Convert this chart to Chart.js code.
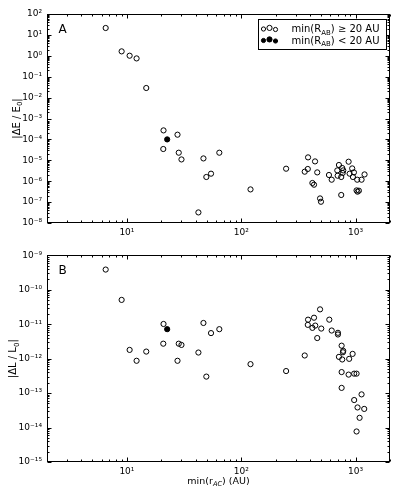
<!DOCTYPE html>
<html>
<head>
<meta charset="utf-8">
<script src="https://cdn.jsdelivr.net/npm/chart.js@4.4.1/dist/chart.umd.min.js"></script>
<style>
  body { margin: 0; background: #fff; }
  #wrap { position: relative; width: 400px; height: 500px; }
  canvas { position: absolute; left: 0; }
</style>
</head>
<body>
<div id="wrap">
  <canvas id="chartA" width="400" height="245" style="top:0"></canvas>
  <canvas id="chartB" width="400" height="255" style="top:245px"></canvas>
</div>
<script>
// min(r_AC) in AU, and |dE/E0| for panel A
const rA_open = [6.52, 8.99, 10.56, 12.15, 14.76, 20.9, 20.8, 27.7, 28.4, 30.0, 46.7, 64.3, 49.5, 54.4, 42.2, 120.5, 246.8,
  384, 442, 359, 382, 462, 419, 433, 489, 498, 585, 618, 715, 692, 764, 780, 771, 697, 749, 749,
  869, 887, 934, 967, 948, 1033, 1128, 1198, 1020, 1040, 1069];
const dE_open = [21.4, 1.63, 1.01, 0.75, 0.0288, 2.70e-4, 3.47e-5, 1.68e-4, 2.31e-5, 1.10e-5, 1.23e-5, 2.31e-5, 1.59e-6, 2.29e-6, 3.21e-8, 4.05e-7, 3.96e-6,
  1.38e-5, 8.85e-6, 2.85e-6, 3.84e-6, 2.64e-6, 8.2e-7, 6.8e-7, 1.50e-7, 1.04e-7, 1.98e-6, 1.18e-6, 5.96e-6, 3.29e-6, 4.28e-6, 3.29e-6, 2.47e-6, 1.83e-6, 1.59e-6, 2.19e-7,
  8.57e-6, 2.29e-6, 4.09e-6, 2.64e-6, 1.59e-6, 1.18e-6, 1.18e-6, 2.11e-6, 3.63e-7, 3.15e-7, 3.51e-7];
const rA_filled = [22.5];
const dE_filled = [1.0e-4];

// min(r_AC) in AU, and |dL/L0| for panel B
const rB_open = [6.52, 8.99, 10.56, 12.15, 14.76, 20.9, 20.8, 27.7, 28.4, 30.0, 46.7, 64.3, 49.5, 54.4, 42.2, 120.5, 246.8, 359,
  489, 384, 433, 382, 419, 444, 501, 462, 589, 618, 701, 701, 755, 780, 775, 715, 764, 879, 942,
  755, 869, 972, 1020, 755, 1128, 972, 1040, 1190, 1084, 1020];
const dL_open = [3.88e-10, 5.1e-11, 1.80e-12, 8.7e-13, 1.61e-12, 1.02e-11, 2.73e-12, 8.7e-13, 2.73e-12, 2.51e-12, 1.09e-11, 7.2e-12, 3.02e-13, 5.54e-12, 1.51e-12, 6.95e-13, 4.38e-13, 1.24e-12,
  2.71e-11, 1.36e-11, 1.55e-11, 9.6e-12, 7.86e-12, 9.16e-12, 7.5e-12, 3.98e-12, 1.36e-11, 6.58e-12, 5.65e-12, 5.05e-12, 2.39e-12, 1.69e-12, 1.54e-12, 1.13e-12, 9.5e-13, 9.9e-13, 1.38e-12,
  4.09e-13, 3.45e-13, 3.68e-13, 3.68e-13, 1.42e-13, 9.2e-14, 6.3e-14, 3.84e-14, 3.48e-14, 1.92e-14, 7.7e-15];
const rB_filled = [22.5];
const dL_filled = [7.2e-12];

// axis ranges
const xRange = [2, 2000];
const yRangeA = [1e-8, 1e2];
const yRangeB = [1e-15, 1e-9];

const legendLabels = [
  [['min(R', 0], ['AB', 1], [') \u2265 20 AU', 0]],
  [['min(R', 0], ['AB', 1], [') < 20 AU', 0]]
];

const FONT = '"DejaVu Sans", sans-serif';
const SUP = { '0': '\u2070', '1': '\u00b9', '2': '\u00b2', '3': '\u00b3', '4': '\u2074', '5': '\u2075',
  '6': '\u2076', '7': '\u2077', '8': '\u2078', '9': '\u2079', '-': '\u207b' };

function isPow10(v) {
  const l = Math.log10(v);
  return Math.abs(l - Math.round(l)) < 1e-6;
}
function powLabel(v) {
  if (!isPow10(v)) return '';
  const e = String(Math.round(Math.log10(v)));
  return '10' + e.split('').map(c => SUP[c]).join('');
}

// 1..9 x 10^n ticks, major at powers of ten
function decadeTicks(scale) {
  const ticks = [];
  const e0 = Math.floor(Math.log10(scale.min) + 1e-9);
  const e1 = Math.ceil(Math.log10(scale.max) - 1e-9);
  for (let e = e0; e <= e1; e++) {
    for (let k = 1; k <= 9; k++) {
      const v = k * Math.pow(10, e);
      if (v >= scale.min * (1 - 1e-9) && v <= scale.max * (1 + 1e-9)) ticks.push({ value: v, major: k === 1 });
    }
  }
  scale.ticks = ticks;
}

function richWidth(ctx, parts, size) {
  let w = 0;
  for (const [t, sub, it] of parts) {
    ctx.font = (it ? 'italic ' : '') + (sub ? size * 0.7 : size) + 'px ' + FONT;
    w += ctx.measureText(t).width;
  }
  return w;
}
function drawRich(ctx, parts, x, y, size) {
  for (const [t, sub, it] of parts) {
    ctx.font = (it ? 'italic ' : '') + (sub ? size * 0.7 : size) + 'px ' + FONT;
    ctx.fillText(t, x, sub ? y + size * 0.25 : y);
    x += ctx.measureText(t).width;
  }
}

const panelPlugin = {
  id: 'panel',
  afterDraw(chart, args, opts) {
    const ctx = chart.ctx, a = chart.chartArea;
    const L = Math.round(a.left) + 0.5, R = Math.round(a.right) - 0.5;
    const T = Math.round(a.top) + 0.5, B = Math.round(a.bottom) - 0.5;
    ctx.save();
    ctx.strokeStyle = '#000';
    ctx.lineWidth = 1;
    ctx.strokeRect(L, T, R - L, B - T);

    // inward ticks on all four sides
    ctx.beginPath();
    const xs = chart.scales.x, ys = chart.scales.y;
    for (const t of xs.ticks) {
      const p = Math.round(xs.getPixelForValue(t.value)) + 0.5;
      const len = t.major ? 4 : 2;
      ctx.moveTo(p, B); ctx.lineTo(p, B - len);
      ctx.moveTo(p, T); ctx.lineTo(p, T + len);
    }
    for (const t of ys.ticks) {
      const p = Math.round(ys.getPixelForValue(t.value)) + 0.5;
      const len = t.major ? 4 : 2;
      ctx.moveTo(L, p); ctx.lineTo(L + len, p);
      ctx.moveTo(R, p); ctx.lineTo(R - len, p);
    }
    ctx.stroke();

    ctx.fillStyle = '#000';
    ctx.textAlign = 'left';
    ctx.textBaseline = 'alphabetic';

    // panel letter
    ctx.font = '12px ' + FONT;
    ctx.fillText(opts.letter, a.left + 11.5, a.top + 19);

    // y title
    ctx.save();
    ctx.translate(opts.yTitleX, (a.top + a.bottom) / 2);
    ctx.rotate(-Math.PI / 2);
    const w = richWidth(ctx, opts.yTitle, 10);
    drawRich(ctx, opts.yTitle, -w / 2, 3.5, 10);
    ctx.restore();

    // x title
    if (opts.xTitle) {
      const xw = richWidth(ctx, opts.xTitle, 9.5);
      drawRich(ctx, opts.xTitle, (a.left + a.right) / 2 - xw / 2, a.bottom + 22, 9.5);
    }

    // legend box
    if (opts.legend) {
      const bx = 258.5, by = a.top + 5.5, bw = 128, bh = 30;
      ctx.fillStyle = '#fff';
      ctx.fillRect(bx, by, bw, bh);
      ctx.strokeRect(bx, by, bw, bh);
      const rows = [by + 9, by + 20.5];
      const mx = [bx + 5, bx + 11, bx + 17];
      const mr = [2.1, 2.6, 2.1];
      const my = [0.5, -0.6, 1.0];
      rows.forEach((ry, i) => {
        for (let k = 0; k < 3; k++) {
          ctx.beginPath();
          ctx.arc(mx[k], ry + my[k], mr[k], 0, Math.PI * 2);
          if (i === 1) { ctx.fillStyle = '#000'; ctx.fill(); }
          ctx.strokeStyle = '#000';
          ctx.stroke();
        }
        ctx.fillStyle = '#000';
        drawRich(ctx, legendLabels[i], bx + 33, ry + 3.8, 10);
      });
    }
    ctx.restore();
  }
};

function toPts(xs, ys) {
  return xs.map((x, i) => ({ x: x, y: ys[i] }));
}

function makeChart(id, xo, yo, xf, yf, yRange, cfg) {
  const tickFont = { family: FONT, size: 9 };
  return new Chart(document.getElementById(id), {
    type: 'scatter',
    data: {
      datasets: [
        { data: toPts(xo, yo), pointRadius: 2.6, borderWidth: 1, borderColor: '#000', backgroundColor: 'rgba(0,0,0,0)' },
        { data: toPts(xf, yf), pointRadius: 2.6, borderWidth: 1, borderColor: '#000', backgroundColor: '#000' }
      ]
    },
    options: {
      responsive: false,
      animation: false,
      events: [],
      layout: { padding: { top: cfg.padTop, right: 10, left: 0, bottom: 0 } },
      plugins: { legend: { display: false }, tooltip: { enabled: false }, panel: cfg.panel },
      scales: {
        x: {
          type: 'logarithmic', min: xRange[0], max: xRange[1],
          grid: { display: false, drawTicks: false }, border: { display: false },
          afterBuildTicks: decadeTicks,
          afterFit: s => { s.height = cfg.xHeight; },
          ticks: { autoSkip: false, maxRotation: 0, padding: 4, color: '#000', font: tickFont, callback: v => powLabel(v) }
        },
        y: {
          type: 'logarithmic', min: yRange[0], max: yRange[1],
          grid: { display: false, drawTicks: false }, border: { display: false },
          afterBuildTicks: decadeTicks,
          afterFit: s => { s.width = 47; },
          ticks: { autoSkip: false, padding: 5, color: '#000', font: tickFont, callback: v => powLabel(v) }
        }
      }
    },
    plugins: [panelPlugin]
  });
}

makeChart('chartA', rA_open, dE_open, rA_filled, dE_filled, yRangeA, {
  padTop: 14, xHeight: 22,
  panel: { letter: 'A', yTitleX: 16, yTitle: [['|\u0394E / E', 0], ['0', 1], ['|', 0]], legend: true }
});

makeChart('chartB', rB_open, dL_open, rB_filled, dL_filled, yRangeB, {
  padTop: 8, xHeight: 38,
  panel: { letter: 'B', yTitleX: 12.5, yTitle: [['|\u0394L / L', 0], ['0', 1], ['|', 0]],
    xTitle: [['min(r', 0], ['AC', 1, 1], [') (AU)', 0]] }
});
</script>
</body>
</html>
